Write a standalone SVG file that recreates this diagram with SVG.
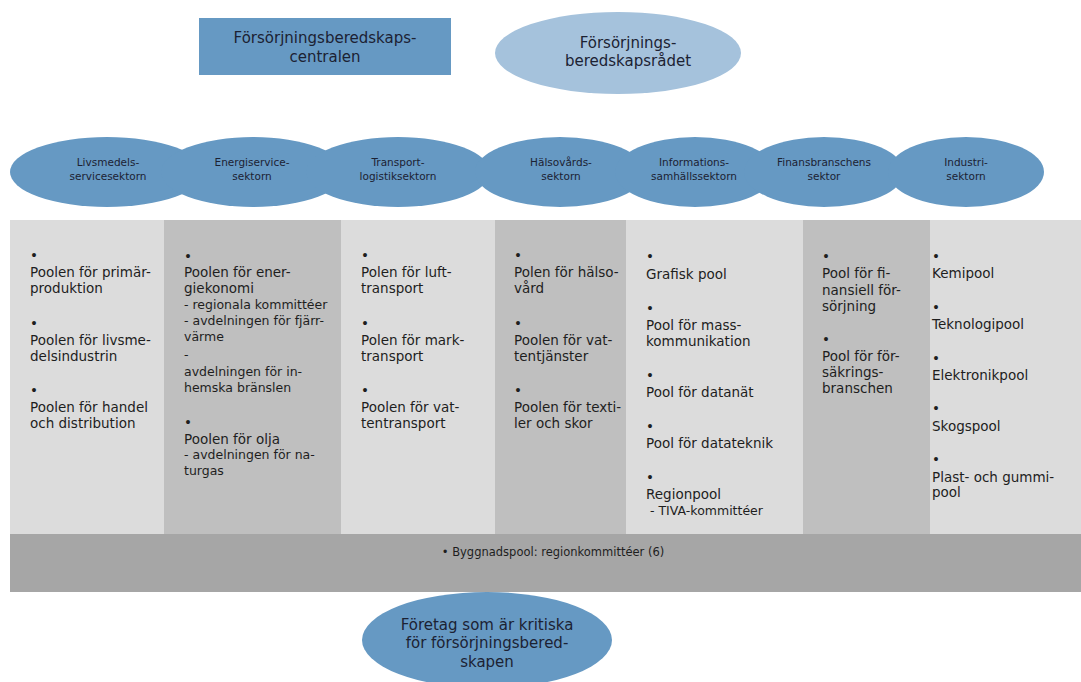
<svg xmlns="http://www.w3.org/2000/svg" width="1081" height="682" viewBox="0 0 1081 682">
<style>
.blue{fill:#6699c3}
.lblue{fill:#a5c2dc}
.cl{fill:#dcdcdc}
.cd{fill:#bfbfbf}
.band{fill:#a6a6a6}
text{font-family:"DejaVu Sans","Liberation Sans",sans-serif;fill:#1e1e1e}
.t{font-size:13.5px}
.s{font-size:12.5px}
.sec{font-size:10.5px;text-anchor:middle;fill:#1c2233}
.big{font-size:15px;text-anchor:middle;fill:#1c2233}
.bt{font-size:11.5px;text-anchor:middle}
</style>
<rect width="1081" height="682" fill="#ffffff"/>
<g id="centralen">
<rect class="blue" x="199" y="18" width="252" height="57"/>
<text class="big"><tspan x="325" y="43">Försörjningsberedskaps-</tspan><tspan x="325" y="62">centralen</tspan></text>
</g>
<g id="radet">
<ellipse class="lblue" cx="618" cy="53" rx="123" ry="41"/>
<text class="big"><tspan x="628" y="48">Försörjnings-</tspan><tspan x="628" y="66">beredskapsrådet</tspan></text>
</g>
<g id="sectors">
<g id="sec-livsmedel"><ellipse class="blue" cx="107" cy="172" rx="97" ry="35"/><text class="sec"><tspan x="108" y="166">Livsmedels-</tspan><tspan x="108" y="180">servicesektorn</tspan></text></g>
<g id="sec-energi"><ellipse class="blue" cx="253" cy="172" rx="92" ry="35"/><text class="sec"><tspan x="252" y="166">Energiservice-</tspan><tspan x="252" y="180">sektorn</tspan></text></g>
<g id="sec-transport"><ellipse class="blue" cx="398" cy="172" rx="92" ry="35"/><text class="sec"><tspan x="398" y="166">Transport-</tspan><tspan x="398" y="180">logistiksektorn</tspan></text></g>
<g id="sec-halsa"><ellipse class="blue" cx="560" cy="172" rx="85" ry="35"/><text class="sec"><tspan x="561" y="166">Hälsovårds-</tspan><tspan x="561" y="180">sektorn</tspan></text></g>
<g id="sec-info"><ellipse class="blue" cx="695" cy="172" rx="80" ry="35"/><text class="sec"><tspan x="694" y="166">Informations-</tspan><tspan x="694" y="180">samhällssektorn</tspan></text></g>
<g id="sec-finans"><ellipse class="blue" cx="824" cy="172" rx="80" ry="35"/><text class="sec"><tspan x="824" y="166">Finansbranschens</tspan><tspan x="824" y="180">sektor</tspan></text></g>
<g id="sec-industri"><ellipse class="blue" cx="966" cy="172" rx="78" ry="35"/><text class="sec"><tspan x="966" y="166">Industri-</tspan><tspan x="966" y="180">sektorn</tspan></text></g>
</g>
<g id="col-livsmedel">
<rect class="cl" x="10" y="220" width="154" height="314"/>
<text class="t"><tspan x="30" y="260">•</tspan><tspan x="30" y="277">Poolen för primär-</tspan><tspan x="30" y="293">produktion</tspan><tspan x="30" y="328">•</tspan><tspan x="30" y="345">Poolen för livsme-</tspan><tspan x="30" y="361">delsindustrin</tspan><tspan x="30" y="395">•</tspan><tspan x="30" y="412">Poolen för handel</tspan><tspan x="30" y="428">och distribution</tspan></text>
</g>
<g id="col-energi">
<rect class="cd" x="164" y="220" width="177" height="314"/>
<text class="t"><tspan x="184" y="261">•</tspan><tspan x="184" y="277">Poolen för ener-</tspan><tspan x="184" y="293">giekonomi</tspan></text>
<text class="s"><tspan x="184" y="309">- regionala kommittéer</tspan><tspan x="184" y="325">- avdelningen för fjärr-</tspan><tspan x="184" y="341">värme</tspan><tspan x="184" y="359">-</tspan><tspan x="184" y="376">avdelningen för in-</tspan><tspan x="184" y="392">hemska bränslen</tspan></text>
<text class="t"><tspan x="184" y="427">•</tspan><tspan x="184" y="444">Poolen för olja</tspan></text>
<text class="s"><tspan x="184" y="459">- avdelningen för na-</tspan><tspan x="184" y="475">turgas</tspan></text>
</g>
<g id="col-transport">
<rect class="cl" x="341" y="220" width="154" height="314"/>
<text class="t"><tspan x="361" y="260">•</tspan><tspan x="361" y="277">Polen för luft-</tspan><tspan x="361" y="293">transport</tspan><tspan x="361" y="328">•</tspan><tspan x="361" y="345">Polen för mark-</tspan><tspan x="361" y="361">transport</tspan><tspan x="361" y="395">•</tspan><tspan x="361" y="412">Poolen för vat-</tspan><tspan x="361" y="428">tentransport</tspan></text>
</g>
<g id="col-halsa">
<rect class="cd" x="495" y="220" width="131" height="314"/>
<text class="t"><tspan x="514" y="260">•</tspan><tspan x="514" y="277">Polen för hälso-</tspan><tspan x="514" y="293">vård</tspan><tspan x="514" y="328">•</tspan><tspan x="514" y="345">Poolen för vat-</tspan><tspan x="514" y="361">tentjänster</tspan><tspan x="514" y="395">•</tspan><tspan x="514" y="412">Poolen för texti-</tspan><tspan x="514" y="428">ler och skor</tspan></text>
</g>
<g id="col-info">
<rect class="cl" x="626" y="220" width="177" height="314"/>
<text class="t"><tspan x="646" y="261">•</tspan><tspan x="646" y="279">Grafisk pool</tspan><tspan x="646" y="313">•</tspan><tspan x="646" y="330">Pool för mass-</tspan><tspan x="646" y="346">kommunikation</tspan><tspan x="646" y="380">•</tspan><tspan x="646" y="397">Pool för datanät</tspan><tspan x="646" y="431">•</tspan><tspan x="646" y="448">Pool för datateknik</tspan><tspan x="646" y="482">•</tspan><tspan x="646" y="499">Regionpool</tspan></text>
<text class="s" x="650" y="515">- TIVA-kommittéer</text>
</g>
<g id="col-finans">
<rect class="cd" x="803" y="220" width="127" height="314"/>
<text class="t"><tspan x="822" y="261">•</tspan><tspan x="822" y="278">Pool för fi-</tspan><tspan x="822" y="295">nansiell för-</tspan><tspan x="822" y="311">sörjning</tspan><tspan x="822" y="344">•</tspan><tspan x="822" y="361">Pool för för-</tspan><tspan x="822" y="377">säkrings-</tspan><tspan x="822" y="393">branschen</tspan></text>
</g>
<g id="col-industri">
<rect class="cl" x="930" y="220" width="151" height="314"/>
<text class="t"><tspan x="932" y="261">•</tspan><tspan x="932" y="278">Kemipool</tspan><tspan x="932" y="312">•</tspan><tspan x="932" y="329">Teknologipool</tspan><tspan x="932" y="363">•</tspan><tspan x="932" y="380">Elektronikpool</tspan><tspan x="932" y="413">•</tspan><tspan x="932" y="431">Skogspool</tspan><tspan x="932" y="464">•</tspan><tspan x="932" y="482">Plast- och gummi-</tspan><tspan x="932" y="497">pool</tspan></text>
</g>
<g id="byggnad">
<rect class="band" x="10" y="534" width="1071" height="58"/>
<text class="bt" x="553" y="556">• Byggnadspool: regionkommittéer (6)</text>
</g>
<g id="foretag">
<ellipse class="blue" cx="487" cy="640" rx="125" ry="48"/>
<text class="big"><tspan x="487" y="630">Företag som är kritiska</tspan><tspan x="487" y="648">för försörjningsbered-</tspan><tspan x="487" y="667">skapen</tspan></text>
</g>
<g id="connectors"/>
</svg>
